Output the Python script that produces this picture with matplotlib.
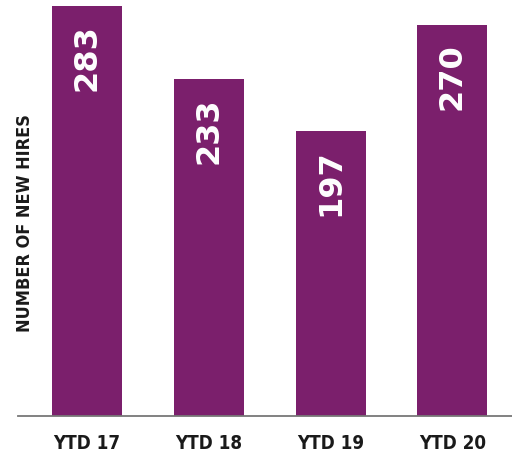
import matplotlib
matplotlib.use("Agg")
import matplotlib.pyplot as plt

categories = ["YTD 17", "YTD 18", "YTD 19", "YTD 20"]
values = [283, 233, 197, 270]
ylabel = "NUMBER OF NEW HIRES"

bar_color = "#7b1f6c"

fig = plt.figure(figsize=(5.12, 4.56), dpi=100)
ax = fig.add_axes([18/512, 39/456, 494/512, 417/456])

x = list(range(len(categories)))
ax.bar(x, values, width=0.575, color=bar_color, zorder=2)
ax.set_xlim(-0.5665, 3.489)
ax.set_ylim(0, 288)

for xi, v in zip(x, values):
    ax.text(xi, v - 12, str(v), rotation=90, ha="center", va="top",
            color="white", fontsize=23, fontweight="bold",
            fontfamily="DejaVu Sans", zorder=3)

for s in ["top", "right", "left"]:
    ax.spines[s].set_visible(False)
ax.spines["bottom"].set_color("#777777")
ax.spines["bottom"].set_linewidth(1.3)
ax.set_yticks([])
ax.set_xticks(x)
ax.set_xticklabels(categories, fontsize=13.5, fontweight="bold",
                   fontfamily="DejaVu Sans", fontstretch="condensed",
                   color="#1a1a1a")
ax.tick_params(axis="x", length=0, pad=12)

fig.text(25/512, 1 - 223/456, ylabel, rotation=90, ha="center", va="center",
         fontsize=13, fontweight="bold", fontfamily="DejaVu Sans",
         fontstretch="condensed", color="#1a1a1a")

fig.savefig("out.png", dpi=100)
